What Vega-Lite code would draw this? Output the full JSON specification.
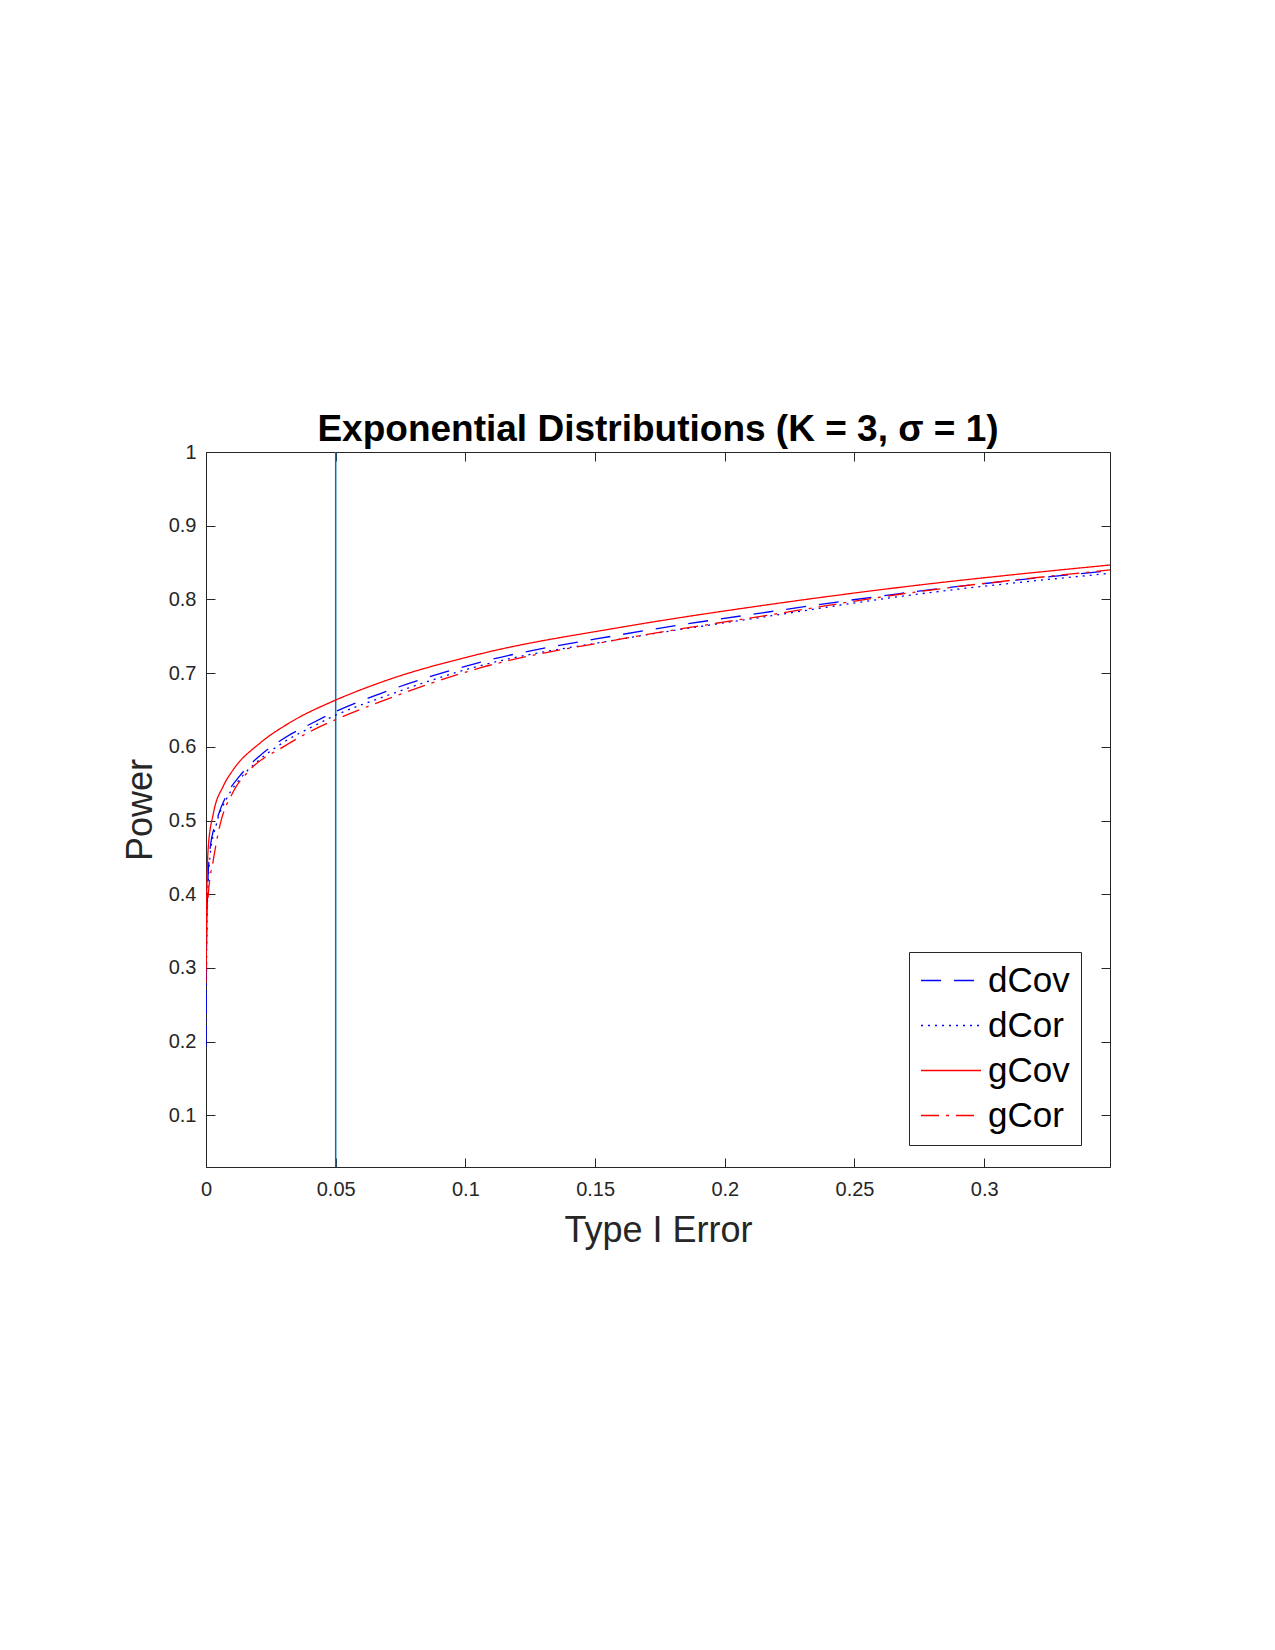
{
  "$schema": "https://vega.github.io/schema/vega-lite/v6.json",
  "width": 904,
  "height": 715,
  "autosize": {"type": "none"},
  "padding": {"left": 206, "top": 452, "right": 165, "bottom": 483},
  "background": "white",
  "config": {
    "view": {"stroke": "#262626", "strokeWidth": 1},
    "font": "Liberation Sans",
    "axis": {
      "domainColor": "#262626",
      "tickColor": "#262626",
      "tickSize": -9,
      "grid": false,
      "labelFlush": false,
      "labelFont": "Liberation Sans",
      "labelFontSize": 20,
      "labelColor": "#262626",
      "titleFont": "Liberation Sans",
      "titleFontSize": 36,
      "titleFontWeight": "normal",
      "titleColor": "#262626"
    }
  },
  "title": {
    "text": "Exponential Distributions (K = 3, σ = 1)",
    "font": "Liberation Sans",
    "fontSize": 37,
    "fontWeight": "bold",
    "color": "#000000",
    "anchor": "middle",
    "baseline": "alphabetic",
    "offset": -36
  },
  "datasets": {
    "curves": [
      {"s": "dCov", "x": 0, "y": 0.193},
      {"s": "dCov", "x": 0.0001, "y": 0.27},
      {"s": "dCov", "x": 0.0004, "y": 0.38},
      {"s": "dCov", "x": 0.0015, "y": 0.46},
      {"s": "dCov", "x": 0.0041, "y": 0.5},
      {"s": "dCov", "x": 0.008, "y": 0.535},
      {"s": "dCov", "x": 0.0131, "y": 0.561},
      {"s": "dCov", "x": 0.0208, "y": 0.588},
      {"s": "dCov", "x": 0.0298, "y": 0.611},
      {"s": "dCov", "x": 0.0414, "y": 0.633},
      {"s": "dCov", "x": 0.05, "y": 0.648},
      {"s": "dCov", "x": 0.067, "y": 0.672},
      {"s": "dCov", "x": 0.1056, "y": 0.7145},
      {"s": "dCov", "x": 0.1596, "y": 0.752},
      {"s": "dCov", "x": 0.2174, "y": 0.7833},
      {"s": "dCov", "x": 0.2675, "y": 0.808},
      {"s": "dCov", "x": 0.3485, "y": 0.839},
      {"s": "dCor", "x": 0, "y": 0.2},
      {"s": "dCor", "x": 0.0002, "y": 0.3},
      {"s": "dCor", "x": 0.0005, "y": 0.38},
      {"s": "dCor", "x": 0.0015, "y": 0.45},
      {"s": "dCor", "x": 0.004, "y": 0.495},
      {"s": "dCor", "x": 0.008, "y": 0.53},
      {"s": "dCor", "x": 0.013, "y": 0.556},
      {"s": "dCor", "x": 0.0208, "y": 0.583},
      {"s": "dCor", "x": 0.0298, "y": 0.606},
      {"s": "dCor", "x": 0.0414, "y": 0.628},
      {"s": "dCor", "x": 0.05, "y": 0.643},
      {"s": "dCor", "x": 0.067, "y": 0.666},
      {"s": "dCor", "x": 0.1056, "y": 0.71},
      {"s": "dCor", "x": 0.1596, "y": 0.746},
      {"s": "dCor", "x": 0.2174, "y": 0.7775},
      {"s": "dCor", "x": 0.2675, "y": 0.804},
      {"s": "dCor", "x": 0.3485, "y": 0.8354},
      {"s": "gCov", "x": 0, "y": 0.28},
      {"s": "gCov", "x": 0.0001, "y": 0.35},
      {"s": "gCov", "x": 0.0003, "y": 0.4},
      {"s": "gCov", "x": 0.0009, "y": 0.465},
      {"s": "gCov", "x": 0.0028, "y": 0.509},
      {"s": "gCov", "x": 0.0067, "y": 0.547},
      {"s": "gCov", "x": 0.0105, "y": 0.569},
      {"s": "gCov", "x": 0.0208, "y": 0.605},
      {"s": "gCov", "x": 0.0324, "y": 0.633},
      {"s": "gCov", "x": 0.05, "y": 0.6635},
      {"s": "gCov", "x": 0.067, "y": 0.687},
      {"s": "gCov", "x": 0.1056, "y": 0.726},
      {"s": "gCov", "x": 0.1596, "y": 0.762},
      {"s": "gCov", "x": 0.2174, "y": 0.7932},
      {"s": "gCov", "x": 0.2675, "y": 0.8164},
      {"s": "gCov", "x": 0.3485, "y": 0.8467},
      {"s": "gCor", "x": 0, "y": 0.3},
      {"s": "gCor", "x": 0.0003, "y": 0.36},
      {"s": "gCor", "x": 0.0009, "y": 0.4},
      {"s": "gCor", "x": 0.0028, "y": 0.446},
      {"s": "gCor", "x": 0.0054, "y": 0.494},
      {"s": "gCor", "x": 0.0105, "y": 0.539},
      {"s": "gCor", "x": 0.017, "y": 0.569},
      {"s": "gCor", "x": 0.0298, "y": 0.6},
      {"s": "gCor", "x": 0.0414, "y": 0.623},
      {"s": "gCor", "x": 0.05, "y": 0.637},
      {"s": "gCor", "x": 0.067, "y": 0.661},
      {"s": "gCor", "x": 0.1056, "y": 0.707},
      {"s": "gCor", "x": 0.1596, "y": 0.746},
      {"s": "gCor", "x": 0.2174, "y": 0.779},
      {"s": "gCor", "x": 0.2675, "y": 0.807},
      {"s": "gCor", "x": 0.3485, "y": 0.84}
    ],
    "alpha": [{"x": 0.05}]
  },
  "layer": [
    {
      "data": {"name": "alpha"},
      "mark": {"type": "rule", "color": "#0072BD", "strokeWidth": 1.5},
      "encoding": {
        "x": {"field": "x", "type": "quantitative", "scale": {"domain": [0, 0.3485], "nice": false, "zero": false}, "axis": null}
      }
    },
    {
      "data": {"name": "curves"},
      "mark": {"type": "line", "strokeWidth": 1.3, "interpolate": "monotone", "clip": true},
      "encoding": {
        "x": {
          "field": "x", "type": "quantitative",
          "scale": {"domain": [0, 0.3485], "nice": false, "zero": false},
          "axis": {"orient": "bottom", "values": [0, 0.05, 0.1, 0.15, 0.2, 0.25, 0.3], "format": "~g", "title": "Type I Error", "labelPadding": 21, "titlePadding": 14}
        },
        "y": {
          "field": "y", "type": "quantitative",
          "scale": {"domain": [0.03, 1], "nice": false, "zero": false},
          "axis": {"orient": "left", "values": [0.1, 0.2, 0.3, 0.4, 0.5, 0.6, 0.7, 0.8, 0.9, 1], "format": "~g", "title": "Power", "labelPadding": 19, "titlePadding": 9}
        },
        "color": {
          "field": "s", "type": "nominal",
          "scale": {"domain": ["dCov", "dCor", "gCov", "gCor"], "range": ["#0000FF", "#0000FF", "#FF0000", "#FF0000"]},
          "legend": {
            "orient": "none", "legendX": 703, "legendY": 500, "title": null,
            "symbolType": "stroke", "symbolSize": 3600, "symbolStrokeWidth": 1.3,
            "labelFont": "Liberation Sans", "labelFontSize": 35, "labelColor": "#000000",
            "labelOffset": 6, "labelLimit": 300,
            "clipHeight": 35, "rowPadding": 9, "padding": 11,
            "strokeColor": "#262626", "fillColor": "#FFFFFF"
          }
        },
        "strokeDash": {
          "field": "s", "type": "nominal",
          "scale": {"domain": ["dCov", "dCor", "gCov", "gCor"], "range": [[20, 13], [2, 5], [1, 0], [18, 7, 3, 7]]},
          "legend": null
        }
      }
    },
    {
      "data": {"name": "curves"},
      "mark": {"type": "line", "strokeOpacity": 0},
      "encoding": {
        "x": {"field": "x", "type": "quantitative", "scale": {"domain": [0, 0.3485], "nice": false, "zero": false},
          "axis": {"orient": "top", "values": [0, 0.05, 0.1, 0.15, 0.2, 0.25, 0.3], "labels": false, "title": null, "domain": false}},
        "y": {"field": "y", "type": "quantitative", "scale": {"domain": [0.03, 1], "nice": false, "zero": false},
          "axis": {"orient": "right", "values": [0.1, 0.2, 0.3, 0.4, 0.5, 0.6, 0.7, 0.8, 0.9, 1], "labels": false, "title": null, "domain": false}}
      }
    }
  ],
  "resolve": {"axis": {"x": "independent", "y": "independent"}}
}
